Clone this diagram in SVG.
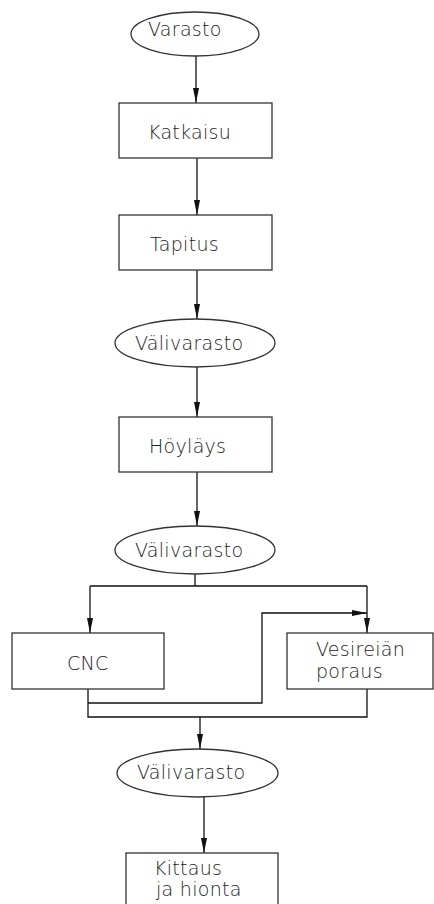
<svg xmlns="http://www.w3.org/2000/svg" width="434" height="904" viewBox="0 0 434 904">
<defs>
<marker id="ah" markerWidth="16" markerHeight="8" refX="15" refY="3.5" orient="auto" markerUnits="userSpaceOnUse">
<path d="M0,0.5 L15,3.5 L0,6.5 Z" fill="#111"/>
</marker>
<style>
.n{fill:#fff;stroke:#333;stroke-width:1.3}
.t{font-family:"DejaVu Sans","Liberation Sans",sans-serif;font-weight:200;font-size:19px;letter-spacing:0.3px;fill:#222}
.c path{fill:none;stroke:#111;stroke-width:1.3}
.a{marker-end:url(#ah)}
</style>
</defs>
<rect width="434" height="904" fill="#fff"/>
<g class="c" id="connectors">
<path class="a" d="M196,56 V103"/>
<path class="a" d="M197,158 V215"/>
<path class="a" d="M197,270 V319"/>
<path class="a" d="M197,367 V417"/>
<path class="a" d="M197,472 V526"/>
<path d="M195,574 V586 M90,586 H367"/>
<path class="a" d="M90,586 V633"/>
<path class="a" d="M367,586 V633"/>
<path d="M88,689 V717 H367 V689"/>
<path class="a" d="M88,703 H262 V613 H367"/>
<path class="a" d="M200,717 V749"/>
<path class="a" d="M204,797 V853"/>
</g>
<g id="varasto"><ellipse class="n" cx="195" cy="34" rx="64" ry="22"/><text class="t" x="148" y="36">Varasto</text></g>
<g id="katkaisu"><rect class="n" x="119" y="103" width="153" height="55"/><text class="t" x="148" y="139">Katkaisu</text></g>
<g id="tapitus"><rect class="n" x="119" y="215" width="153" height="55"/><text class="t" x="150" y="251">Tapitus</text></g>
<g id="valivarasto1"><ellipse class="n" cx="195" cy="343" rx="80" ry="24"/><text class="t" x="135" y="350">Välivarasto</text></g>
<g id="hoylays"><rect class="n" x="119" y="417" width="153" height="55"/><text class="t" x="149" y="453">Höyläys</text></g>
<g id="valivarasto2"><ellipse class="n" cx="195" cy="550" rx="80" ry="24"/><text class="t" x="135" y="557">Välivarasto</text></g>
<g id="cnc"><rect class="n" x="12" y="633" width="152" height="56"/><text class="t" x="67" y="670">CNC</text></g>
<g id="vesireian"><rect class="n" x="287" y="633" width="146" height="56"/><text class="t" x="316" y="656">Vesireiän</text><text class="t" x="316" y="678">poraus</text></g>
<g id="valivarasto3"><ellipse class="n" cx="197.5" cy="773" rx="80.5" ry="24"/><text class="t" x="137" y="779">Välivarasto</text></g>
<g id="kittaus"><rect class="n" x="126" y="853" width="152" height="60"/><text class="t" x="154" y="875">Kittaus</text><text class="t" x="156" y="896">ja hionta</text></g>
</svg>
